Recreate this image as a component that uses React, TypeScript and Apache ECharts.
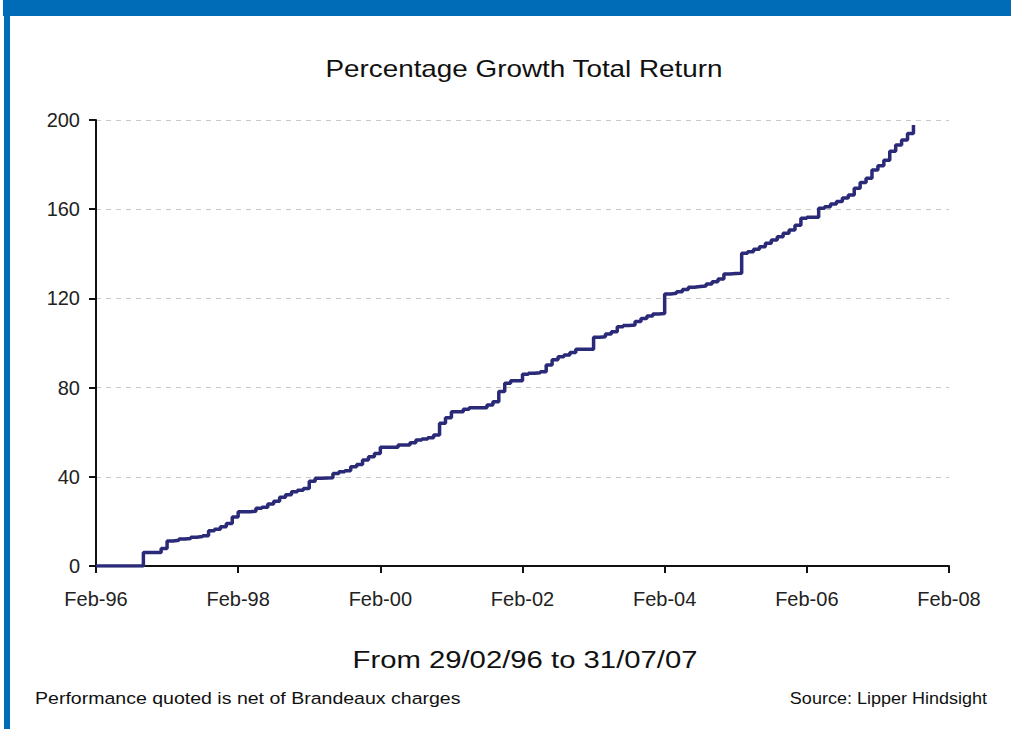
import React, { useEffect, useRef } from "react";
import * as echarts from "echarts";

// Monthly percentage growth, month index 0 = Feb-96
const returns: number[] = [
  0, 0, 0, 0, 0, 0, 0, 0, 6.1, 6.1, 6.1, 7.9,
  11.2, 11.5, 12.1, 12.3, 12.9, 13.2, 13.6, 15.8, 16.5, 17.6, 19.1, 22.0,
  24.3, 24.3, 24.6, 25.9, 26.3, 27.8, 29.0, 30.8, 32.0, 33.3, 34.0, 34.8,
  38.0, 39.3, 39.5, 39.6, 41.5, 42.3, 42.7, 44.5, 45.5, 47.5, 49.0, 50.5,
  53.2, 53.2, 53.2, 54.3, 54.3, 55.3, 56.5, 57.0, 57.5, 58.7, 64.0, 66.5,
  69.2, 69.2, 70.3, 71.0, 71.0, 71.0, 72.2, 73.7, 78.2, 82.0, 83.1, 83.1,
  86.0, 86.4, 86.7, 87.1, 90.1, 92.5, 93.8, 94.6, 95.7, 97.2, 97.2, 97.2,
  102.6, 102.8, 104.0, 105.1, 107.3, 107.8, 108.1, 109.6, 111.0, 112.1, 113.0, 113.2,
  122.0, 122.3, 123.0, 124.0, 125.0, 125.3, 125.6, 126.5, 127.5, 128.7, 130.9, 131.2,
  131.3, 140.2, 140.9, 142.0, 143.2, 144.7, 146.2, 147.7, 149.2, 150.7, 152.8, 155.9,
  156.4, 156.4, 160.4, 161.1, 162.3, 163.4, 165.0, 166.4, 169.4, 172.0, 173.9, 177.6,
  179.5, 182.0, 186.0, 188.8, 191.0, 194.0, 197.8,
];

const xTickLabels: string[] = ["Feb-96", "Feb-98", "Feb-00", "Feb-02", "Feb-04", "Feb-06", "Feb-08"];
const monthsPerTick = 24;

const chartTitle = "Percentage Growth Total Return";
const periodText = "From 29/02/96 to 31/07/07";
const noteText = "Performance quoted is net of Brandeaux charges";
const sourceText = "Source: Lipper Hindsight";

const FONT = "'Liberation Sans', Arial, Helvetica, sans-serif";

export default function App() {
  const ref = useRef<HTMLDivElement>(null);
  useEffect(() => {
    if (!ref.current) return;
    const chart = echarts.init(ref.current, undefined, { renderer: "svg" });
    chart.setOption({
      animation: false,
      backgroundColor: "#ffffff",
      grid: { left: 96, right: 62, top: 120, bottom: 163, containLabel: false },
      xAxis: {
        type: "value",
        min: 0,
        max: monthsPerTick * (xTickLabels.length - 1),
        interval: monthsPerTick,
        axisLine: { show: true, lineStyle: { color: "#111", width: 2 } },
        axisTick: { show: true, length: 7, lineStyle: { color: "#111", width: 2 } },
        axisLabel: {
          color: "#222",
          fontSize: 20,
          fontFamily: FONT,
          margin: 23,
          formatter: (v: number) => xTickLabels[Math.round(v / monthsPerTick)] ?? "",
        },
        splitLine: { show: false },
      },
      yAxis: {
        type: "value",
        min: 0,
        max: 200,
        interval: 40,
        axisLine: { show: true, lineStyle: { color: "#111", width: 2 } },
        axisTick: { show: true, length: 7, lineStyle: { color: "#111", width: 2 } },
        axisLabel: { color: "#222", fontSize: 20, fontFamily: FONT, margin: 16 },
        splitLine: { show: true, lineStyle: { color: "#c8c8c8", type: [5, 5], width: 1 } },
      },
      series: [
        {
          type: "line",
          step: "end",
          data: returns.map((v, i) => [i, v]),
          showSymbol: false,
          symbol: "none",
          lineStyle: { color: "#2a2a78", width: 3.5 },
          z: 3,
        },
      ],
      graphic: [
        { type: "rect", shape: { x: 3, y: 0, width: 1008, height: 16 }, style: { fill: "#006bb6" } },
        { type: "rect", shape: { x: 4, y: 16, width: 6, height: 713 }, style: { fill: "#006bb6" } },
        {
          type: "text", x: 524, y: 69, scaleX: 1.16,
          style: { text: chartTitle, fontSize: 24, fontFamily: FONT, fill: "#111", textAlign: "center", textVerticalAlign: "middle" },
        },
        {
          type: "text", x: 525, y: 660, scaleX: 1.22,
          style: { text: periodText, fontSize: 24, fontFamily: FONT, fill: "#111", textAlign: "center", textVerticalAlign: "middle" },
        },
        {
          type: "text", x: 35, y: 698, scaleX: 1.15,
          style: { text: noteText, fontSize: 17, fontFamily: FONT, fill: "#111", textAlign: "left", textVerticalAlign: "middle" },
        },
        {
          type: "text", x: 987, y: 698, scaleX: 1.06,
          style: { text: sourceText, fontSize: 17, fontFamily: FONT, fill: "#111", textAlign: "right", textVerticalAlign: "middle" },
        },
      ],
    });
    return () => chart.dispose();
  }, []);
  return <div ref={ref} style={{ position: "absolute", left: 0, top: 0, width: 1011, height: 729 }} />;
}
